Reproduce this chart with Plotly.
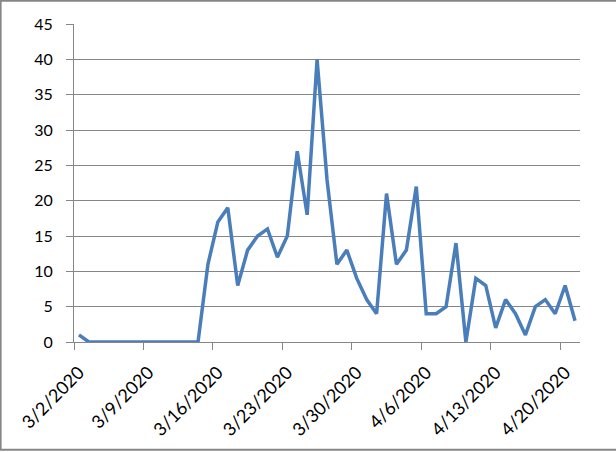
import pandas as pd
import plotly.graph_objects as go

start_date = "2020-03-02"
values = [1, 0, 0, 0, 0, 0, 0, 0, 0, 0, 0, 0, 0, 11, 17, 19, 8, 13, 15, 16, 12, 15,
          27, 18, 40, 23, 11, 13, 9, 6, 4, 21, 11, 13, 22, 4, 4, 5, 14, 0, 9, 8, 2,
          6, 4, 1, 5, 6, 4, 8, 3]
dates = pd.date_range(start_date, periods=len(values), freq="D")
tick_dates = dates[::7]
tick_labels = [f"{d.month}/{d.day}/{d.year}" for d in tick_dates]

half = pd.Timedelta(hours=12)
x_pts = dates + half  # points centered between tick marks

W, H = 616, 452
L, R, T, B = 74.3, 36.4, 24.3, 109.7
pw, ph = W - L - R, H - T - B

fig = go.Figure(go.Scatter(
    x=x_pts, y=values, mode="lines",
    line=dict(color="#4A7EBB", width=3.5),
    hoverinfo="skip",
))

fig.update_layout(
    width=W, height=H,
    margin=dict(l=L, r=R, t=T, b=B, autoexpand=False),
    paper_bgcolor="white", plot_bgcolor="white",
    font=dict(family="Lato, Liberation Sans, sans-serif", size=16, color="black"),
    showlegend=False,
    xaxis=dict(
        range=[dates[0], dates[-1] + pd.Timedelta(days=1)],
        tickvals=tick_dates, ticktext=tick_labels, tickangle=-45,
        tickfont=dict(size=18),
        showgrid=False, showline=True, linecolor="#868686", linewidth=1,
        ticks="outside", ticklen=7, tickcolor="#868686",
        ticklabelstandoff=5, ticklabelshift=5,
        zeroline=False, automargin=False,
    ),
    yaxis=dict(
        range=[0, 45], dtick=5, tick0=0,
        showgrid=True, gridcolor="#868686", gridwidth=1,
        showline=True, linecolor="#868686", linewidth=1,
        ticks="outside", ticklen=7, tickcolor="#868686",
        ticklabelstandoff=10,
        zeroline=False, automargin=False,
    ),
    shapes=[dict(
        type="rect", xref="paper", yref="paper",
        x0=(1 - L) / pw, x1=(W + 5 - L) / pw,
        y0=(H - B - (H - 2)) / ph, y1=(H - B - 1) / ph,
        line=dict(color="#868686", width=2), fillcolor="rgba(0,0,0,0)",
        layer="above",
    )],
)

fig.write_html("out.html", config={"displayModeBar": False},
               post_script="document.body.style.margin='0';document.body.style.overflow='hidden';")
